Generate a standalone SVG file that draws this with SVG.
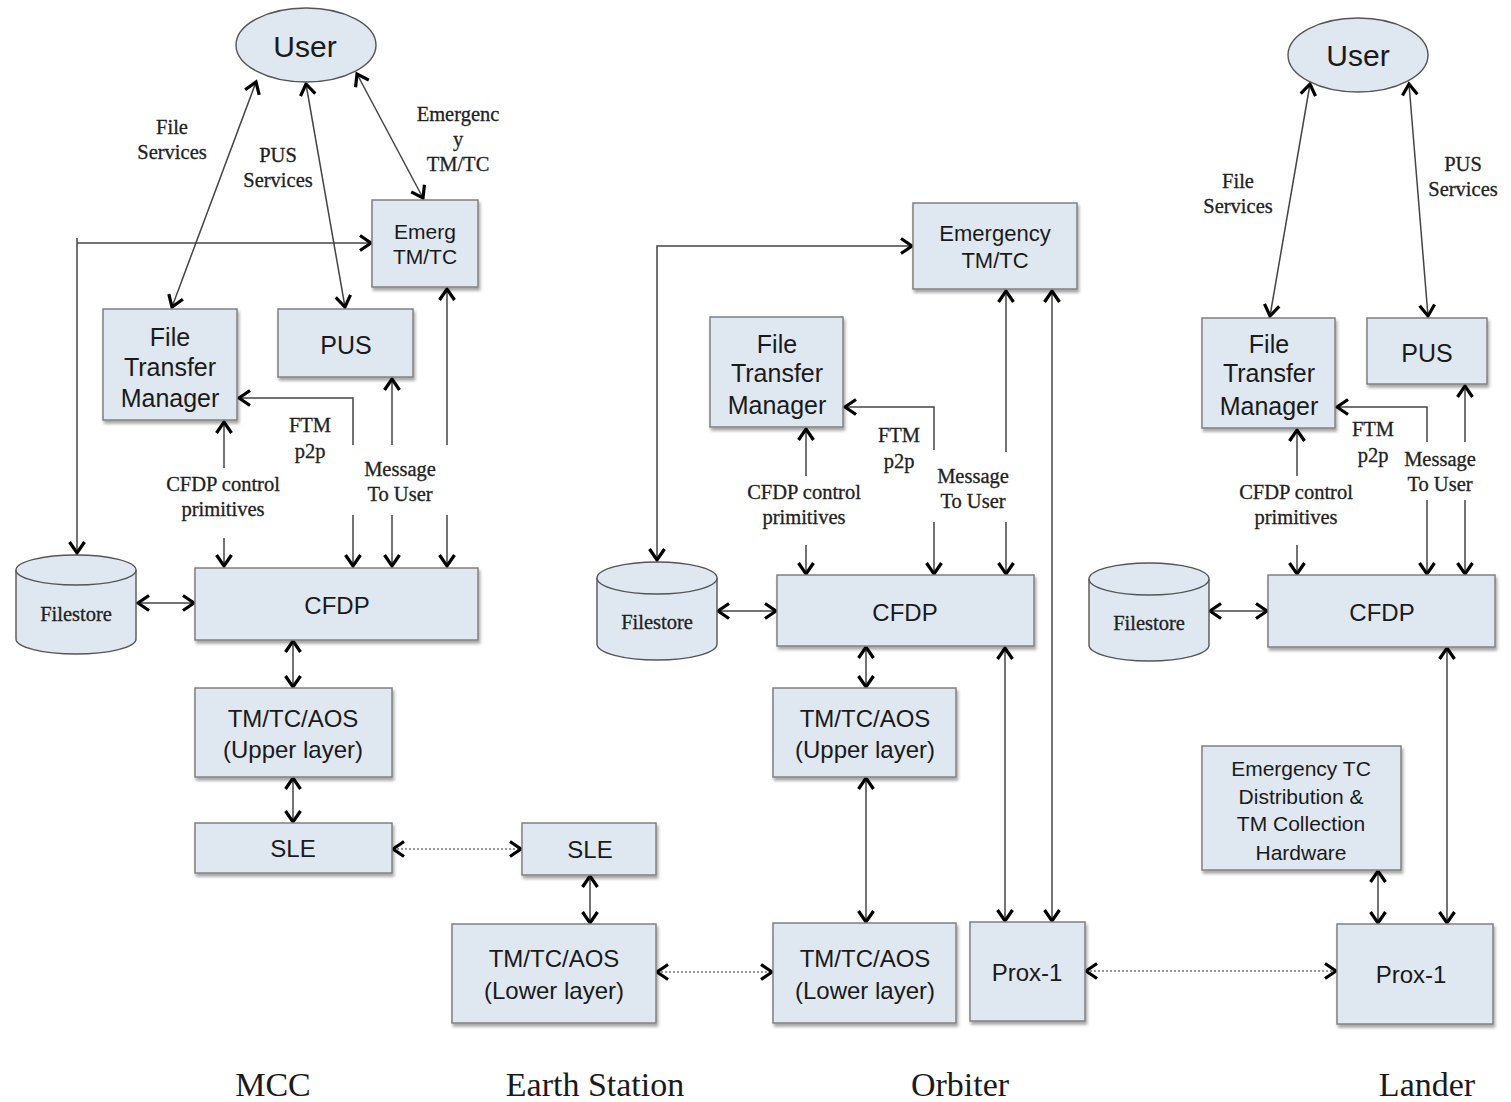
<svg xmlns="http://www.w3.org/2000/svg" width="1511" height="1102" viewBox="0 0 1511 1102">
<defs>
<style>
.box{fill:#dfe7f1;stroke:#808080;stroke-width:1.5;filter:url(#sh)}
.cyl{fill:#dfe7f1;stroke:#555;stroke-width:1.4}
.nt{font-family:"Liberation Sans",Arial,sans-serif;fill:#1a1a1a;text-anchor:middle}
.lb{font-family:"Liberation Serif","Times New Roman",serif;font-size:20.5px;fill:#222;text-anchor:middle;stroke:#222;stroke-width:0.3}
.ft{font-family:"Liberation Serif","Times New Roman",serif;font-size:20.5px;fill:#222;text-anchor:middle;stroke:#222;stroke-width:0.3}
.ttl{font-family:"Liberation Serif","Times New Roman",serif;font-size:34px;fill:#1a1a1a;text-anchor:middle}
.ln{fill:none;stroke:#444;stroke-width:1.5}
.dt{fill:none;stroke:#999;stroke-width:2.2;stroke-dasharray:2 2}
.s{marker-start:url(#ah)}
.e{marker-end:url(#ah)}
</style>
<filter id="sh" x="-10%" y="-10%" width="130%" height="130%">
<feDropShadow dx="1.5" dy="3" stdDeviation="1.5" flood-color="#000" flood-opacity="0.35"/>
</filter>
<marker id="ah" viewBox="0 0 18 18" refX="15" refY="9" markerWidth="18" markerHeight="18" markerUnits="userSpaceOnUse" orient="auto-start-reverse">
<path d="M4,1.5 L15,9 L4,16.5" fill="none" stroke="#000" stroke-width="3.2" stroke-linejoin="miter"/>
</marker>
</defs>
<rect width="1511" height="1102" fill="#fff"/>

<g id="connectors">
<!-- MCC -->
<line class="ln s e" x1="256" y1="82" x2="172" y2="307"/>
<line class="ln s e" x1="306" y1="84" x2="345" y2="307"/>
<line class="ln s e" x1="357" y1="74" x2="423" y2="198"/>
<path class="ln e" d="M77,238 V553"/>
<path class="ln e" d="M77,243 H371"/>
<path class="ln s" d="M447,289 V445"/>
<path class="ln e" d="M447,515 V566"/>
<path class="ln s" d="M392,379 V445"/>
<path class="ln e" d="M392,515 V566"/>
<path class="ln s" d="M239,398 H353 V445"/>
<path class="ln e" d="M353,515 V566"/>
<path class="ln s" d="M224,422 V468"/>
<path class="ln e" d="M224,538 V566"/>
<path class="ln s e" d="M138,603 H194"/>
<path class="ln s e" d="M293,641 V687"/>
<path class="ln s e" d="M293,778 V822"/>
<path class="dt s e" d="M393,849 H521"/>
<path class="ln s e" d="M590,876 V923"/>
<path class="dt s e" d="M657,972 H772"/>
<!-- Orbiter -->
<path class="ln s e" d="M912,246 H657 V560"/>
<path class="ln s" d="M845,407 H934 V450"/>
<path class="ln e" d="M934,522 V574"/>
<path class="ln s" d="M806,429 V476"/>
<path class="ln e" d="M806,545 V574"/>
<path class="ln s" d="M1006,291 V452"/>
<path class="ln e" d="M1006,522 V574"/>
<path class="ln s e" d="M1052,291 V921"/>
<path class="ln s e" d="M1005,648 V921"/>
<path class="ln s e" d="M718,611 H776"/>
<path class="ln s e" d="M866,647 V687"/>
<path class="ln s e" d="M866,778 V922"/>
<path class="dt s e" d="M1086,971 H1336"/>
<!-- Lander -->
<line class="ln s e" x1="1310" y1="84" x2="1270" y2="316"/>
<line class="ln s e" x1="1409" y1="84" x2="1428" y2="316"/>
<path class="ln s" d="M1337,407 H1427 V442"/>
<path class="ln e" d="M1427,500 V574"/>
<path class="ln s" d="M1465,386 V442"/>
<path class="ln e" d="M1465,500 V574"/>
<path class="ln s" d="M1297,430 V476"/>
<path class="ln e" d="M1297,545 V574"/>
<path class="ln s e" d="M1210,611 H1267"/>
<path class="ln s e" d="M1447,648 V923"/>
<path class="ln s e" d="M1378,871 V923"/>
</g>

<g id="labels">
<text class="lb" x="172" y="134">File</text>
<text class="lb" x="172" y="159">Services</text>
<text class="lb" x="278" y="162">PUS</text>
<text class="lb" x="278" y="187">Services</text>
<text class="lb" x="458" y="121">Emergenc</text>
<text class="lb" x="458" y="146">y</text>
<text class="lb" x="458" y="171">TM/TC</text>
<text class="lb" x="310" y="432">FTM</text>
<text class="lb" x="310" y="458">p2p</text>
<text class="lb" x="400" y="476">Message</text>
<text class="lb" x="400" y="501">To User</text>
<text class="lb" x="223" y="491">CFDP control</text>
<text class="lb" x="223" y="516">primitives</text>

<text class="lb" x="899" y="442">FTM</text>
<text class="lb" x="899" y="468">p2p</text>
<text class="lb" x="973" y="483">Message</text>
<text class="lb" x="973" y="508">To User</text>
<text class="lb" x="804" y="499">CFDP control</text>
<text class="lb" x="804" y="524">primitives</text>

<text class="lb" x="1238" y="188">File</text>
<text class="lb" x="1238" y="213">Services</text>
<text class="lb" x="1463" y="171">PUS</text>
<text class="lb" x="1463" y="196">Services</text>
<text class="lb" x="1373" y="436">FTM</text>
<text class="lb" x="1373" y="462">p2p</text>
<text class="lb" x="1440" y="466">Message</text>
<text class="lb" x="1440" y="491">To User</text>
<text class="lb" x="1296" y="499">CFDP control</text>
<text class="lb" x="1296" y="524">primitives</text>

<text class="ttl" x="273" y="1096">MCC</text>
<text class="ttl" x="595" y="1096">Earth Station</text>
<text class="ttl" x="960" y="1096">Orbiter</text>
<text class="ttl" x="1427" y="1096">Lander</text>
</g>

<!-- MCC nodes -->
<g id="mcc-user">
<ellipse class="cyl" cx="306" cy="45" rx="70" ry="37"/>
<text class="nt" x="305" y="57" font-size="30">User</text>
</g>
<g id="mcc-emerg">
<rect class="box" x="372" y="200" width="106" height="87"/>
<text class="nt" x="425" y="239" font-size="21">Emerg</text>
<text class="nt" x="425" y="264" font-size="21">TM/TC</text>
</g>
<g id="mcc-ftm">
<rect class="box" x="103" y="309" width="134" height="111"/>
<text class="nt" x="170" y="346" font-size="25">File</text>
<text class="nt" x="170" y="376" font-size="25">Transfer</text>
<text class="nt" x="170" y="407" font-size="25">Manager</text>
</g>
<g id="mcc-pus">
<rect class="box" x="278" y="309" width="135" height="68"/>
<text class="nt" x="346" y="354" font-size="25">PUS</text>
</g>
<g id="mcc-filestore">
<path class="cyl" d="M16,570 A60,15 0 0 1 136,570 V639 A60,15 0 0 1 16,639 Z"/>
<path class="cyl" d="M16,570 A60,15 0 0 0 136,570"/>
<text class="ft" x="76" y="621">Filestore</text>
</g>
<g id="mcc-cfdp">
<rect class="box" x="195" y="568" width="283" height="72"/>
<text class="nt" x="337" y="614" font-size="24">CFDP</text>
</g>
<g id="mcc-tmupper">
<rect class="box" x="195" y="688" width="197" height="89"/>
<text class="nt" x="293" y="727" font-size="24">TM/TC/AOS</text>
<text class="nt" x="293" y="758" font-size="24">(Upper layer)</text>
</g>
<g id="mcc-sle">
<rect class="box" x="195" y="823" width="197" height="50"/>
<text class="nt" x="293" y="857" font-size="24">SLE</text>
</g>

<!-- Earth station -->
<g id="es-sle">
<rect class="box" x="522" y="823" width="134" height="52"/>
<text class="nt" x="590" y="858" font-size="24">SLE</text>
</g>
<g id="es-tmlower">
<rect class="box" x="452" y="924" width="204" height="99"/>
<text class="nt" x="554" y="967" font-size="24">TM/TC/AOS</text>
<text class="nt" x="554" y="999" font-size="24">(Lower layer)</text>
</g>

<!-- Orbiter -->
<g id="orb-emerg">
<rect class="box" x="913" y="203" width="164" height="86"/>
<text class="nt" x="995" y="241" font-size="22">Emergency</text>
<text class="nt" x="995" y="268" font-size="22">TM/TC</text>
</g>
<g id="orb-ftm">
<rect class="box" x="710" y="317" width="133" height="110"/>
<text class="nt" x="777" y="353" font-size="25">File</text>
<text class="nt" x="777" y="382" font-size="25">Transfer</text>
<text class="nt" x="777" y="414" font-size="25">Manager</text>
</g>
<g id="orb-filestore">
<path class="cyl" d="M597,578 A60,16 0 0 1 717,578 V644 A60,16 0 0 1 597,644 Z"/>
<path class="cyl" d="M597,578 A60,16 0 0 0 717,578"/>
<text class="ft" x="657" y="629">Filestore</text>
</g>
<g id="orb-cfdp">
<rect class="box" x="777" y="575" width="257" height="71"/>
<text class="nt" x="905" y="621" font-size="24">CFDP</text>
</g>
<g id="orb-tmupper">
<rect class="box" x="773" y="688" width="183" height="89"/>
<text class="nt" x="865" y="727" font-size="24">TM/TC/AOS</text>
<text class="nt" x="865" y="758" font-size="24">(Upper layer)</text>
</g>
<g id="orb-tmlower">
<rect class="box" x="773" y="923" width="183" height="100"/>
<text class="nt" x="865" y="967" font-size="24">TM/TC/AOS</text>
<text class="nt" x="865" y="999" font-size="24">(Lower layer)</text>
</g>
<g id="orb-prox1">
<rect class="box" x="970" y="922" width="115" height="99"/>
<text class="nt" x="1027" y="981" font-size="24">Prox-1</text>
</g>

<!-- Lander -->
<g id="lan-user">
<ellipse class="cyl" cx="1358" cy="55" rx="70" ry="37"/>
<text class="nt" x="1358" y="66" font-size="30">User</text>
</g>
<g id="lan-ftm">
<rect class="box" x="1202" y="318" width="133" height="110"/>
<text class="nt" x="1269" y="353" font-size="25">File</text>
<text class="nt" x="1269" y="382" font-size="25">Transfer</text>
<text class="nt" x="1269" y="415" font-size="25">Manager</text>
</g>
<g id="lan-pus">
<rect class="box" x="1367" y="318" width="120" height="66"/>
<text class="nt" x="1427" y="362" font-size="25">PUS</text>
</g>
<g id="lan-filestore">
<path class="cyl" d="M1089,579 A60,16 0 0 1 1209,579 V645 A60,16 0 0 1 1089,645 Z"/>
<path class="cyl" d="M1089,579 A60,16 0 0 0 1209,579"/>
<text class="ft" x="1149" y="630">Filestore</text>
</g>
<g id="lan-cfdp">
<rect class="box" x="1268" y="575" width="227" height="72"/>
<text class="nt" x="1382" y="621" font-size="24">CFDP</text>
</g>
<g id="lan-emergtc">
<rect class="box" x="1202" y="746" width="199" height="124"/>
<text class="nt" x="1301" y="776" font-size="21">Emergency TC</text>
<text class="nt" x="1301" y="804" font-size="21">Distribution &amp;</text>
<text class="nt" x="1301" y="831" font-size="21">TM Collection</text>
<text class="nt" x="1301" y="860" font-size="21">Hardware</text>
</g>
<g id="lan-prox1">
<rect class="box" x="1337" y="924" width="156" height="100"/>
<text class="nt" x="1411" y="983" font-size="24">Prox-1</text>
</g>
</svg>
